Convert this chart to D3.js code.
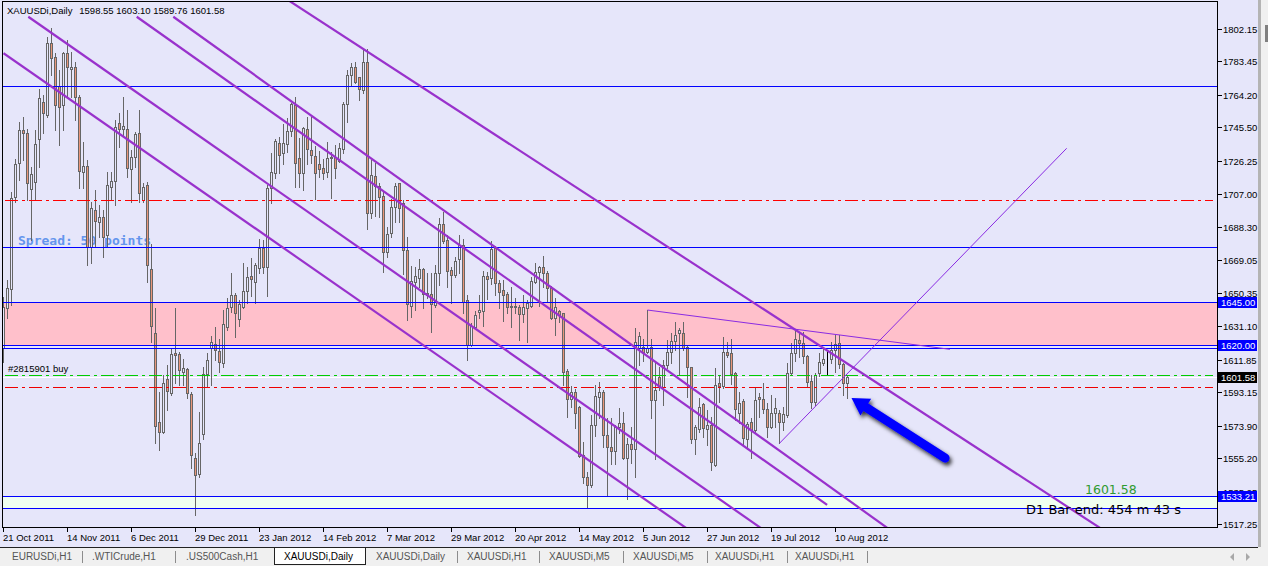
<!DOCTYPE html>
<html>
<head>
<meta charset="utf-8">
<title>XAUUSDi,Daily</title>
<script src="https://cdnjs.cloudflare.com/ajax/libs/d3/7.8.5/d3.min.js"></script>
<style>
  html, body { margin: 0; padding: 0; background: #e6e6fa; overflow: hidden; }
  svg { display: block; font-family: "Liberation Sans", Arial, sans-serif; }
</style>
</head>
<body>
<div id="chart"></div>
<script>
// ---- data (daily bars, 21 Oct 2011 .. 15 Aug 2012) ----
var opens = [
  1618.3,1641.4,1652.3,1705.3,1724.8,1744.0,1742.1,1709.9,1714.3,1738.6,
  1760.3,1752.6,1793.9,1785.8,1769.3,1758.4,1788.1,1779.3,1780.1,1762.8,
  1720.0,1723.3,1676.9,1698.0,1691.3,1694.1,1683.6,1711.0,1714.9,1747.9,
  1744.4,1744.4,1721.4,1728.7,1742.1,1703.7,1712.4,1663.8,1627.4,1576.1,
  1570.2,1600.5,1592.8,1615.5,1614.9,1604.9,1606.3,1592.1,1555.0,1546.0,
  1569.0,1603.6,1618.4,1620.8,1616.8,1610.1,1630.8,1642.0,1648.9,1635.0,
  1642.3,1651.6,1660.0,1656.7,1664.4,1675.9,1665.4,1710.4,1719.1,1736.3,
  1731.0,1735.9,1743.6,1758.4,1727.7,1719.5,1744.4,1732.5,1729.1,1724.5,
  1722.0,1720.0,1727.9,1728.3,1726.4,1732.9,1759.0,1775.7,1780.1,1774.3,
  1767.0,1783.4,1696.4,1717.5,1711.8,1706.0,1674.0,1684.5,1699.5,1713.3,
  1702.2,1675.0,1642.7,1656.7,1658.6,1663.8,1650.4,1649.6,1643.3,1661.9,
  1689.9,1680.7,1663.4,1660.6,1669.6,1677.8,1646.2,1620.3,1630.8,1639.5,
  1640.0,1660.0,1658.6,1675.9,1655.8,1651.9,1649.6,1642.7,1642.3,1642.0,
  1638.1,1641.4,1642.7,1656.7,1662.5,1665.0,1661.5,1652.9,1635.6,1640.0,
  1638.5,1605.5,1589.0,1593.4,1584.8,1557.0,1544.1,1539.5,1574.2,1590.1,
  1593.4,1568.5,1561.4,1559.5,1573.3,1575.6,1555.0,1563.3,1560.2,1618.4,
  1618.9,1616.4,1618.9,1588.6,1601.7,1596.3,1608.8,1616.4,1622.8,1627.4,
  1627.4,1618.9,1607.4,1566.0,1571.7,1586.3,1571.7,1574.2,1551.2,1598.6,
  1596.7,1616.4,1615.5,1604.4,1581.0,1588.2,1566.0,1576.1,1571.3,1590.5,
  1589.0,1583.3,1573.3,1581.0,1581.3,1576.1,1580.0,1604.0,1615.5,1623.2,
  1621.6,1613.9,1599.8,1587.7,1604.0,1610.1,1612.0,1612.0,1617.4,1621.2,
  1609.3,1598.55
];
var highs = [
  1648.1,1657.7,1708.5,1727.1,1748.8,1751.7,1744.4,1722.9,1744.0,1767.4,
  1764.2,1797.7,1802.5,1788.1,1778.5,1789.1,1795.8,1789.1,1783.4,1764.2,
  1737.3,1726.7,1702.8,1709.5,1700.9,1698.0,1720.0,1720.0,1749.8,1753.6,
  1762.8,1755.5,1732.5,1743.1,1755.5,1713.7,1714.3,1678.4,1641.4,1593.4,
  1603.0,1608.8,1618.4,1641.4,1616.4,1612.0,1606.8,1593.4,1557.9,1581.9,
  1607.8,1615.5,1625.5,1630.8,1623.5,1640.4,1647.1,1661.5,1650.0,1646.2,
  1667.7,1665.0,1670.2,1667.3,1681.1,1680.7,1712.4,1730.6,1738.6,1740.2,
  1747.5,1750.7,1759.4,1762.8,1739.2,1745.9,1751.7,1751.7,1734.8,1732.1,
  1727.1,1737.3,1731.5,1735.4,1736.7,1760.3,1778.5,1782.8,1783.4,1774.7,
  1790.4,1790.4,1726.7,1724.8,1713.3,1708.5,1688.4,1704.1,1713.7,1713.7,
  1703.7,1682.2,1665.7,1665.0,1669.6,1664.4,1661.5,1661.5,1666.3,1693.2,
  1697.0,1683.6,1665.4,1670.7,1683.6,1681.1,1649.1,1633.1,1640.0,1649.1,
  1663.1,1662.5,1680.3,1677.3,1657.7,1657.7,1651.0,1653.8,1647.1,1643.3,
  1649.1,1646.2,1659.6,1667.7,1665.7,1671.5,1663.1,1654.2,1647.1,1640.4,
  1638.9,1606.3,1596.7,1594.8,1585.2,1564.6,1547.4,1580.0,1597.3,1599.2,
  1594.4,1578.1,1578.1,1574.2,1583.8,1581.9,1566.6,1573.3,1629.9,1628.0,
  1623.5,1640.4,1623.5,1610.1,1607.8,1611.6,1623.2,1627.4,1633.7,1629.9,
  1633.7,1620.3,1607.8,1574.2,1589.6,1587.1,1582.9,1579.0,1606.8,1603.0,
  1624.7,1622.2,1623.5,1604.9,1593.4,1589.0,1576.1,1578.1,1596.3,1592.5,
  1598.6,1586.7,1591.5,1589.6,1582.9,1584.4,1610.1,1621.6,1629.3,1627.0,
  1628.0,1614.5,1603.0,1604.0,1615.9,1618.4,1617.4,1622.2,1626.0,1626.0,
  1610.1,1603.10
];
var lows = [
  1610.7,1635.6,1643.3,1702.8,1715.2,1726.7,1703.7,1680.7,1703.7,1722.9,
  1742.1,1751.7,1775.7,1744.0,1735.4,1744.0,1763.2,1763.2,1749.8,1710.4,
  1710.4,1666.3,1667.3,1676.9,1682.6,1671.1,1676.9,1703.7,1700.9,1734.4,
  1741.1,1717.2,1702.8,1722.9,1702.8,1702.8,1656.7,1622.2,1563.7,1559.8,
  1569.4,1582.9,1591.5,1598.2,1597.3,1597.3,1589.6,1549.3,1522.4,1544.5,
  1566.0,1596.3,1597.3,1611.6,1604.9,1607.8,1628.9,1639.5,1625.1,1631.2,
  1641.4,1644.3,1648.5,1644.6,1661.5,1661.9,1648.5,1702.2,1716.2,1719.1,
  1724.5,1731.5,1740.6,1711.4,1711.4,1709.5,1724.5,1724.8,1704.1,1716.8,
  1715.6,1717.2,1704.7,1716.2,1725.8,1730.6,1748.8,1769.9,1770.9,1761.3,
  1765.5,1686.8,1693.2,1694.5,1694.1,1662.5,1670.7,1682.2,1691.3,1691.3,
  1661.1,1634.7,1636.2,1640.4,1653.8,1641.4,1647.1,1627.9,1642.0,1654.8,
  1678.8,1653.8,1644.6,1659.6,1661.9,1638.5,1611.6,1619.7,1629.9,1635.6,
  1631.2,1646.6,1655.4,1649.1,1641.4,1634.3,1638.5,1630.8,1638.5,1623.2,
  1633.7,1622.2,1642.0,1655.8,1642.7,1653.8,1645.8,1635.0,1626.0,1633.7,
  1597.3,1579.0,1584.8,1572.3,1556.0,1540.7,1526.9,1538.4,1567.9,1578.1,
  1561.8,1533.4,1551.8,1551.8,1569.4,1554.5,1531.4,1552.2,1544.5,1608.8,
  1611.3,1615.5,1578.1,1554.5,1594.4,1585.7,1606.8,1609.7,1617.4,1603.6,
  1617.4,1590.1,1564.1,1557.5,1570.4,1567.5,1562.7,1548.3,1550.6,1587.7,
  1595.3,1613.6,1597.8,1577.1,1575.2,1562.7,1560.2,1555.0,1569.4,1579.0,
  1581.0,1567.5,1572.3,1573.3,1563.7,1571.3,1578.6,1603.6,1611.3,1613.6,
  1609.7,1596.7,1583.8,1585.7,1602.4,1608.8,1603.6,1609.7,1604.9,1606.8,
  1591.5,1589.76
];
var closes = [
  1642.3,1652.9,1704.7,1724.5,1744.0,1742.5,1713.7,1718.7,1735.9,1762.2,
  1753.6,1794.3,1785.3,1758.4,1757.4,1788.1,1780.1,1780.1,1762.8,1720.6,
  1723.3,1676.9,1698.9,1691.8,1694.1,1682.2,1712.4,1714.9,1745.6,1744.4,
  1746.3,1722.0,1728.7,1741.7,1707.6,1711.0,1666.3,1631.2,1573.7,1570.2,
  1598.6,1594.0,1614.9,1614.5,1605.9,1606.8,1592.5,1557.0,1545.5,1564.1,
  1603.6,1611.6,1622.2,1617.4,1610.7,1632.4,1641.4,1649.1,1638.9,1643.9,
  1651.6,1659.2,1658.1,1666.3,1675.9,1665.0,1710.4,1720.0,1737.7,1729.6,
  1736.7,1743.4,1758.8,1724.8,1719.5,1745.0,1732.9,1729.4,1719.5,1721.8,
  1719.5,1727.7,1728.3,1722.0,1733.5,1759.0,1775.7,1780.1,1771.8,1767.4,
  1783.4,1696.4,1718.1,1711.8,1705.6,1674.0,1684.2,1699.5,1711.8,1698.9,
  1675.0,1643.9,1657.3,1660.0,1663.8,1649.6,1649.1,1643.9,1661.5,1689.9,
  1680.3,1663.1,1660.6,1668.6,1677.8,1645.2,1620.3,1631.2,1637.5,1640.4,
  1660.0,1658.5,1675.3,1655.8,1651.0,1649.1,1642.0,1642.0,1642.5,1638.1,
  1642.0,1644.3,1657.3,1662.5,1665.0,1661.9,1652.9,1635.6,1642.0,1637.5,
  1604.9,1589.0,1593.4,1581.0,1556.4,1544.1,1539.5,1574.2,1590.9,1593.4,
  1568.5,1561.4,1559.5,1572.9,1575.6,1555.0,1563.3,1560.2,1622.2,1625.5,
  1616.4,1618.4,1588.6,1594.4,1595.9,1608.8,1616.4,1622.8,1626.0,1628.9,
  1618.4,1607.4,1566.0,1573.3,1584.8,1572.3,1574.2,1553.1,1597.3,1596.7,
  1616.4,1614.5,1603.6,1583.3,1587.1,1566.6,1574.8,1571.3,1588.6,1589.0,
  1583.3,1573.3,1581.0,1583.8,1576.1,1580.6,1604.0,1615.5,1623.5,1621.6,
  1613.9,1599.2,1587.7,1603.0,1610.7,1612.0,1612.0,1617.4,1620.8,1609.3,
  1598.2,1601.58
];
var markedBars = [206];            // bar drawn in black (trade mark)

var dateLabels = ["21 Oct 2011","14 Nov 2011","6 Dec 2011","29 Dec 2011","23 Jan 2012",
  "14 Feb 2012","7 Mar 2012","29 Mar 2012","20 Apr 2012","14 May 2012","5 Jun 2012",
  "27 Jun 2012","19 Jul 2012","10 Aug 2012"];
var dateTickBars = [0,16,32,48,64,80,96,112,128,144,160,176,192,208];

var priceTicks = [1802.15,1783.45,1764.20,1745.50,1726.25,1707.00,1688.30,1669.05,
  1650.35,1631.10,1611.85,1593.15,1573.90,1555.20,1535.95,1517.25];

var blueLevels = [1769.3, 1676.5, 1645.00, 1620.00, 1618.8, 1533.21, 1526.3];
var pinkZone = [1645.00, 1620.00];
var paleZone = [1533.21, 1526.3];
var dashLevels = [
  {price: 1703.7, color: "#ff0000"},
  {price: 1603.2, color: "#00cc00"},
  {price: 1595.9, color: "#ee0000"}
];
var bidPrice = 1601.58;
var axisMarks = [
  {price: 1645.00, bg: "#0000ff"},
  {price: 1620.00, bg: "#0000ff"},
  {price: 1601.58, bg: "#000000"},
  {price: 1533.21, bg: "#0000ff"}
];

// trend lines as [bar, price] pairs
var channelLines = [
  [[0, 1788.2], [174, 1509.6]],
  [[6.2, 1809.2], [191.6, 1511.3]],
  [[33.3, 1809.2], [205.9, 1528.2]],
  [[42.45, 1809.2], [224.1, 1509.8]],
  [[70.4, 1819.9], [276.6, 1511.3]]
];
var thinLines = [
  [[161, 1640.4], [236.6, 1617.8]],
  [[194, 1563.7], [265.8, 1733.5]]
];
var arrowTail = [235.4, 1555.2];
var arrowTip = [212, 1589.8];

var tabs = ["EURUSDi,H1",".WTICrude,H1",".US500Cash,H1","XAUUSDi,Daily","XAUUSDi,Daily",
  "XAUUSDi,H1","XAUUSDi,M5","XAUUSDi,M5","XAUUSDi,H1","XAUUSDi,H1"];
var activeTab = 3;

// ---- layout ----
var W = 1268, H = 566;
var tabX = [12, 92, 186, 284, 376, 467, 549, 633, 715, 795];
var tabSeps = [82, 175, 457, 539, 623, 707, 787, 867];

var svg = d3.select("#chart").append("svg")
    .attr("width", W)
    .attr("height", H);

var x = d3.scaleLinear().domain([0, 211]).range([3.5, 847.5]);
var y = d3.scaleLinear().domain([1517.25, 1802.15]).range([524, 29]);
function py(v) { return Math.round(y(v)) + 0.5; }

var defs = svg.append("defs");
defs.append("clipPath").attr("id", "plotClip")
  .append("rect").attr("x", 3).attr("y", 2).attr("width", 1214).attr("height", 525);
// price labels are hidden where the marker boxes cover them
defs.append("clipPath").attr("id", "labelClip")
  .append("rect").attr("x", 1217).attr("y", 0).attr("width", 45).attr("height", py(1533.21) - 5.5);
defs.append("clipPath").attr("id", "labelClipLow")
  .append("rect").attr("x", 1217).attr("y", py(1533.21) + 5.5).attr("width", 45).attr("height", 60);
var shadow = defs.append("filter").attr("id", "shadow")
    .attr("x", "-30%").attr("y", "-30%").attr("width", "170%").attr("height", "170%");
shadow.append("feDropShadow")
    .attr("dx", 2).attr("dy", 3).attr("stdDeviation", 2)
    .attr("flood-color", "#000").attr("flood-opacity", 0.8);

svg.append("rect").attr("width", W).attr("height", H).attr("fill", "#e6e6fa");

var plotG = svg.append("g").attr("clip-path", "url(#plotClip)");

// zones
plotG.append("rect")
    .attr("x", 3).attr("width", 1214)
    .attr("y", py(pinkZone[0])).attr("height", py(pinkZone[1]) - py(pinkZone[0]))
    .attr("fill", "#ffc0cb");
plotG.append("rect")
    .attr("x", 3).attr("width", 1214)
    .attr("y", py(paleZone[0])).attr("height", py(paleZone[1]) - py(paleZone[0]))
    .attr("fill", "#f0fff0");

// bid line
plotG.append("line")
    .attr("x1", 3).attr("x2", 1217)
    .attr("y1", py(bidPrice)).attr("y2", py(bidPrice))
    .attr("stroke", "#ffffff").attr("shape-rendering", "crispEdges");

// spread text sits under the candles
plotG.append("text")
    .attr("x", 18).attr("y", 245)
    .attr("font-family", "'DejaVu Sans Mono', monospace")
    .attr("font-size", "13px")
    .attr("font-weight", "bold")
    .attr("fill", "#6495ed")
    .text("Spread: 50 points");

// candles
var bars = d3.range(opens.length);
var candles = plotG.append("g").attr("shape-rendering", "crispEdges");
candles.selectAll(".wick")
  .data(bars)
  .enter()
  .append("line")
    .attr("class", "wick")
    .attr("x1", function(i) { return x(i); })
    .attr("x2", function(i) { return x(i); })
    .attr("y1", function(i) { return Math.round(y(highs[i])); })
    .attr("y2", function(i) { return Math.round(y(lows[i])) + 1; })
    .attr("stroke", function(i) { return markedBars.indexOf(i) >= 0 ? "#000" : "#666"; });

candles.selectAll(".body")
  .data(bars)
  .enter()
  .append("rect")
    .attr("class", "body")
    .attr("x", function(i) { return x(i) - 1; })
    .attr("width", 2)
    .attr("y", function(i) { return py(Math.max(opens[i], closes[i])); })
    .attr("height", function(i) {
      return Math.max(0, py(Math.min(opens[i], closes[i])) - py(Math.max(opens[i], closes[i])));
    })
    .attr("fill", function(i) { return closes[i] < opens[i] ? "#e9967a" : "#e6e6fa"; })
    .attr("stroke", function(i) { return markedBars.indexOf(i) >= 0 ? "#000" : "#666"; });

// horizontal levels
plotG.selectAll(".blue-level")
  .data(blueLevels)
  .enter()
  .append("line")
    .attr("class", "blue-level")
    .attr("x1", 3).attr("x2", 1217)
    .attr("y1", function(d) { return py(d); })
    .attr("y2", function(d) { return py(d); })
    .attr("stroke", "#0000ff")
    .attr("shape-rendering", "crispEdges");

plotG.selectAll(".dash-level")
  .data(dashLevels)
  .enter()
  .append("line")
    .attr("class", "dash-level")
    .attr("x1", 5).attr("x2", 1213)
    .attr("y1", function(d) { return py(d.price); })
    .attr("y2", function(d) { return py(d.price); })
    .attr("stroke", function(d) { return d.color; })
    .attr("stroke-dasharray", "13,4,3,4")
    .attr("shape-rendering", "crispEdges");

// trend lines
plotG.selectAll(".channel")
  .data(channelLines)
  .enter()
  .append("line")
    .attr("class", "channel")
    .attr("x1", function(d) { return x(d[0][0]); })
    .attr("y1", function(d) { return y(d[0][1]); })
    .attr("x2", function(d) { return x(d[1][0]); })
    .attr("y2", function(d) { return y(d[1][1]); })
    .attr("stroke", "#9932cc")
    .attr("stroke-width", 2.2);

plotG.selectAll(".thin")
  .data(thinLines)
  .enter()
  .append("line")
    .attr("class", "thin")
    .attr("x1", function(d) { return x(d[0][0]); })
    .attr("y1", function(d) { return y(d[0][1]); })
    .attr("x2", function(d) { return x(d[1][0]); })
    .attr("y2", function(d) { return y(d[1][1]); })
    .attr("stroke", "#8a2be2")
    .attr("stroke-width", 1);

// blue arrow
var tx = x(arrowTip[0]), ty = y(arrowTip[1]);
var sx = x(arrowTail[0]), sy = y(arrowTail[1]);
var len = Math.sqrt((tx - sx) * (tx - sx) + (ty - sy) * (ty - sy));
var ux = (tx - sx) / len, uy = (ty - sy) / len;
var arrowG = plotG.append("g").attr("filter", "url(#shadow)");
arrowG.append("line")
    .attr("x1", sx).attr("y1", sy)
    .attr("x2", tx - ux * 12).attr("y2", ty - uy * 12)
    .attr("stroke", "#0000ff")
    .attr("stroke-width", 9)
    .attr("stroke-linecap", "round");
var bx = tx - ux * 17, by = ty - uy * 17;
arrowG.append("path")
    .attr("d", "M" + tx + "," + ty +
               "L" + (bx - uy * 10) + "," + (by + ux * 10) +
               "L" + (bx + uy * 10) + "," + (by - ux * 10) + "Z")
    .attr("fill", "#0000ff");

// texts on the chart
svg.append("text")
    .attr("x", 7).attr("y", 14)
    .attr("font-size", "9.5px")
    .text("XAUUSDi,Daily");
svg.append("text")
    .attr("x", 79.3).attr("y", 14)
    .attr("font-size", "9.5px")
    .text(opens[211].toFixed(2) + " " + highs[211].toFixed(2) + " " +
          lows[211].toFixed(2) + " " + closes[211].toFixed(2));
svg.append("text")
    .attr("x", 8).attr("y", 372)
    .attr("font-size", "9.5px")
    .text("#2815901 buy");
svg.append("text")
    .attr("x", 1085).attr("y", 494)
    .attr("font-family", "'DejaVu Sans', sans-serif")
    .attr("font-size", "12.5px")
    .attr("fill", "#2f9a2f")
    .text(closes[211].toFixed(2));
svg.append("text")
    .attr("x", 1026).attr("y", 514)
    .attr("font-family", "'DejaVu Sans', sans-serif")
    .attr("font-size", "13px")
    .attr("fill", "#000")
    .text("D1 Bar end: 454 m 43 s");

// frame
svg.append("rect")
    .attr("x", 2.5).attr("y", 1.5)
    .attr("width", 1215).attr("height", 526)
    .attr("fill", "none")
    .attr("stroke", "#000")
    .attr("shape-rendering", "crispEdges");

// price axis
var yAxisG = svg.append("g").attr("shape-rendering", "crispEdges");
yAxisG.selectAll("line")
  .data(priceTicks)
  .enter()
  .append("line")
    .attr("x1", 1218).attr("x2", 1222)
    .attr("y1", function(d) { return py(d); })
    .attr("y2", function(d) { return py(d); })
    .attr("stroke", "#000");
yAxisG.selectAll("text")
  .data(priceTicks)
  .enter()
  .append("text")
    .attr("x", 1223)
    .attr("y", function(d) { return py(d) + 3.5; })
    .attr("font-size", "9.5px")
    .attr("clip-path", function(d) { return y(d) < py(1533.21) ? "url(#labelClip)" : "url(#labelClipLow)"; })
    .text(function(d) { return d.toFixed(2); });

var markG = svg.append("g");
markG.selectAll("rect")
  .data(axisMarks)
  .enter()
  .append("rect")
    .attr("x", 1218).attr("width", 39)
    .attr("y", function(d) { return py(d.price) - 5.5; })
    .attr("height", 11)
    .attr("fill", function(d) { return d.bg; })
    .attr("shape-rendering", "crispEdges");
markG.selectAll("text")
  .data(axisMarks)
  .enter()
  .append("text")
    .attr("x", 1221)
    .attr("y", function(d) { return py(d.price) + 3.5; })
    .attr("font-size", "9.5px")
    .attr("fill", "#fff")
    .text(function(d) { return d.price.toFixed(2); });

// time axis
var xAxisG = svg.append("g");
xAxisG.selectAll("line")
  .data(dateTickBars)
  .enter()
  .append("line")
    .attr("x1", function(d) { return x(d); })
    .attr("x2", function(d) { return x(d); })
    .attr("y1", 528).attr("y2", 532)
    .attr("stroke", "#000")
    .attr("shape-rendering", "crispEdges");
xAxisG.selectAll("text")
  .data(dateTickBars)
  .enter()
  .append("text")
    .attr("x", function(d) { return x(d) - 0.5; })
    .attr("y", 541)
    .attr("font-size", "9.5px")
    .text(function(d, i) { return dateLabels[i]; });

// window edge on the right
svg.append("rect").attr("x", 1258).attr("y", 0).attr("width", 3).attr("height", 547).attr("fill", "#b4b4b4");
svg.append("rect").attr("x", 1261).attr("y", 0).attr("width", 7).attr("height", 547).attr("fill", "#f0f0f0");
svg.append("rect").attr("x", 1265).attr("y", 25).attr("width", 3).attr("height", 17).attr("fill", "#808080");

// tab strip
var tabG = svg.append("g");
tabG.append("rect").attr("x", 0).attr("y", 547).attr("width", W).attr("height", 19).attr("fill", "#f0f0f0");
tabG.append("line")
    .attr("x1", 0).attr("x2", 1258).attr("y1", 547.5).attr("y2", 547.5)
    .attr("stroke", "#222").attr("shape-rendering", "crispEdges");
tabG.append("rect")
    .attr("x", 274.5).attr("y", 547.5).attr("width", 91).attr("height", 17)
    .attr("fill", "#fff").attr("stroke", "#222").attr("shape-rendering", "crispEdges");
tabG.selectAll(".sep")
  .data(tabSeps)
  .enter()
  .append("line")
    .attr("class", "sep")
    .attr("x1", function(d) { return d + 0.5; })
    .attr("x2", function(d) { return d + 0.5; })
    .attr("y1", 551).attr("y2", 563)
    .attr("stroke", "#8c8c8c");
tabG.selectAll(".tab")
  .data(tabs)
  .enter()
  .append("text")
    .attr("class", "tab")
    .attr("x", function(d, i) { return tabX[i]; })
    .attr("y", 560)
    .attr("font-size", "10px")
    .attr("fill", function(d, i) { return i === activeTab ? "#000" : "#555"; })
    .text(function(d) { return d; });
tabG.append("path").attr("d", "M1230,557L1234,553L1234,561Z").attr("fill", "#a8a8a8");
tabG.append("path").attr("d", "M1250,557L1246,553L1246,561Z").attr("fill", "#a8a8a8");
</script>
</body>
</html>
